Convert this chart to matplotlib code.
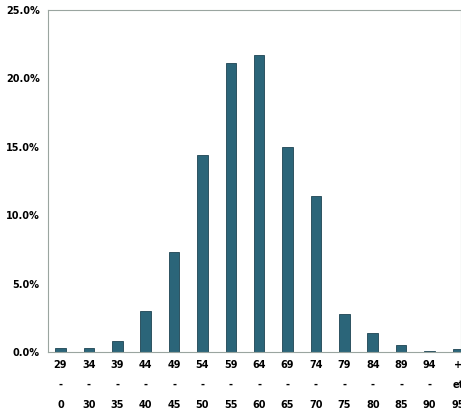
import matplotlib.pyplot as plt
from matplotlib.ticker import FuncFormatter

lows = ["29", "34", "39", "44", "49", "54", "59", "64", "69", "74", "79", "84", "89", "94", "+"]
mids = ["-"] * 14 + ["et"]
highs = ["0", "30", "35", "40", "45", "50", "55", "60", "65", "70", "75", "80", "85", "90", "95"]
values = [0.3, 0.3, 0.8, 3.0, 7.3, 14.4, 21.1, 21.7, 15.0, 11.4, 2.8, 1.4, 0.5, 0.1, 0.2]

fig = plt.figure(figsize=(4.61, 4.12), dpi=100)
ax = fig.add_axes([48 / 461, 1 - 352 / 412, 1 - 48 / 461, (352 - 10) / 412])
x = list(range(len(values)))
ax.bar(x, values, width=0.37, color="#2b6579", edgecolor="#1d4452", linewidth=0.6)
ax.set_xlim(-0.44, 14.11)
ax.set_ylim(0, 25)
ax.set_yticks([0, 5, 10, 15, 20, 25])
ax.yaxis.set_major_formatter(FuncFormatter(lambda v, p: f"{v:.1f}%"))
ax.tick_params(axis="y", labelsize=7, length=0, pad=6)
for t in ax.get_yticklabels():
    t.set_fontweight("bold")
ax.set_xticks(x)
ax.set_xticklabels([f"{a}\n{b}\n{c}" for a, b, c in zip(lows, mids, highs)],
                   fontsize=7, fontweight="bold", linespacing=2.2)
ax.tick_params(axis="x", length=0, pad=6)
for s in ax.spines.values():
    s.set_color("#9aa5a0")
    s.set_linewidth(0.8)
fig.savefig("out.png", dpi=100)
